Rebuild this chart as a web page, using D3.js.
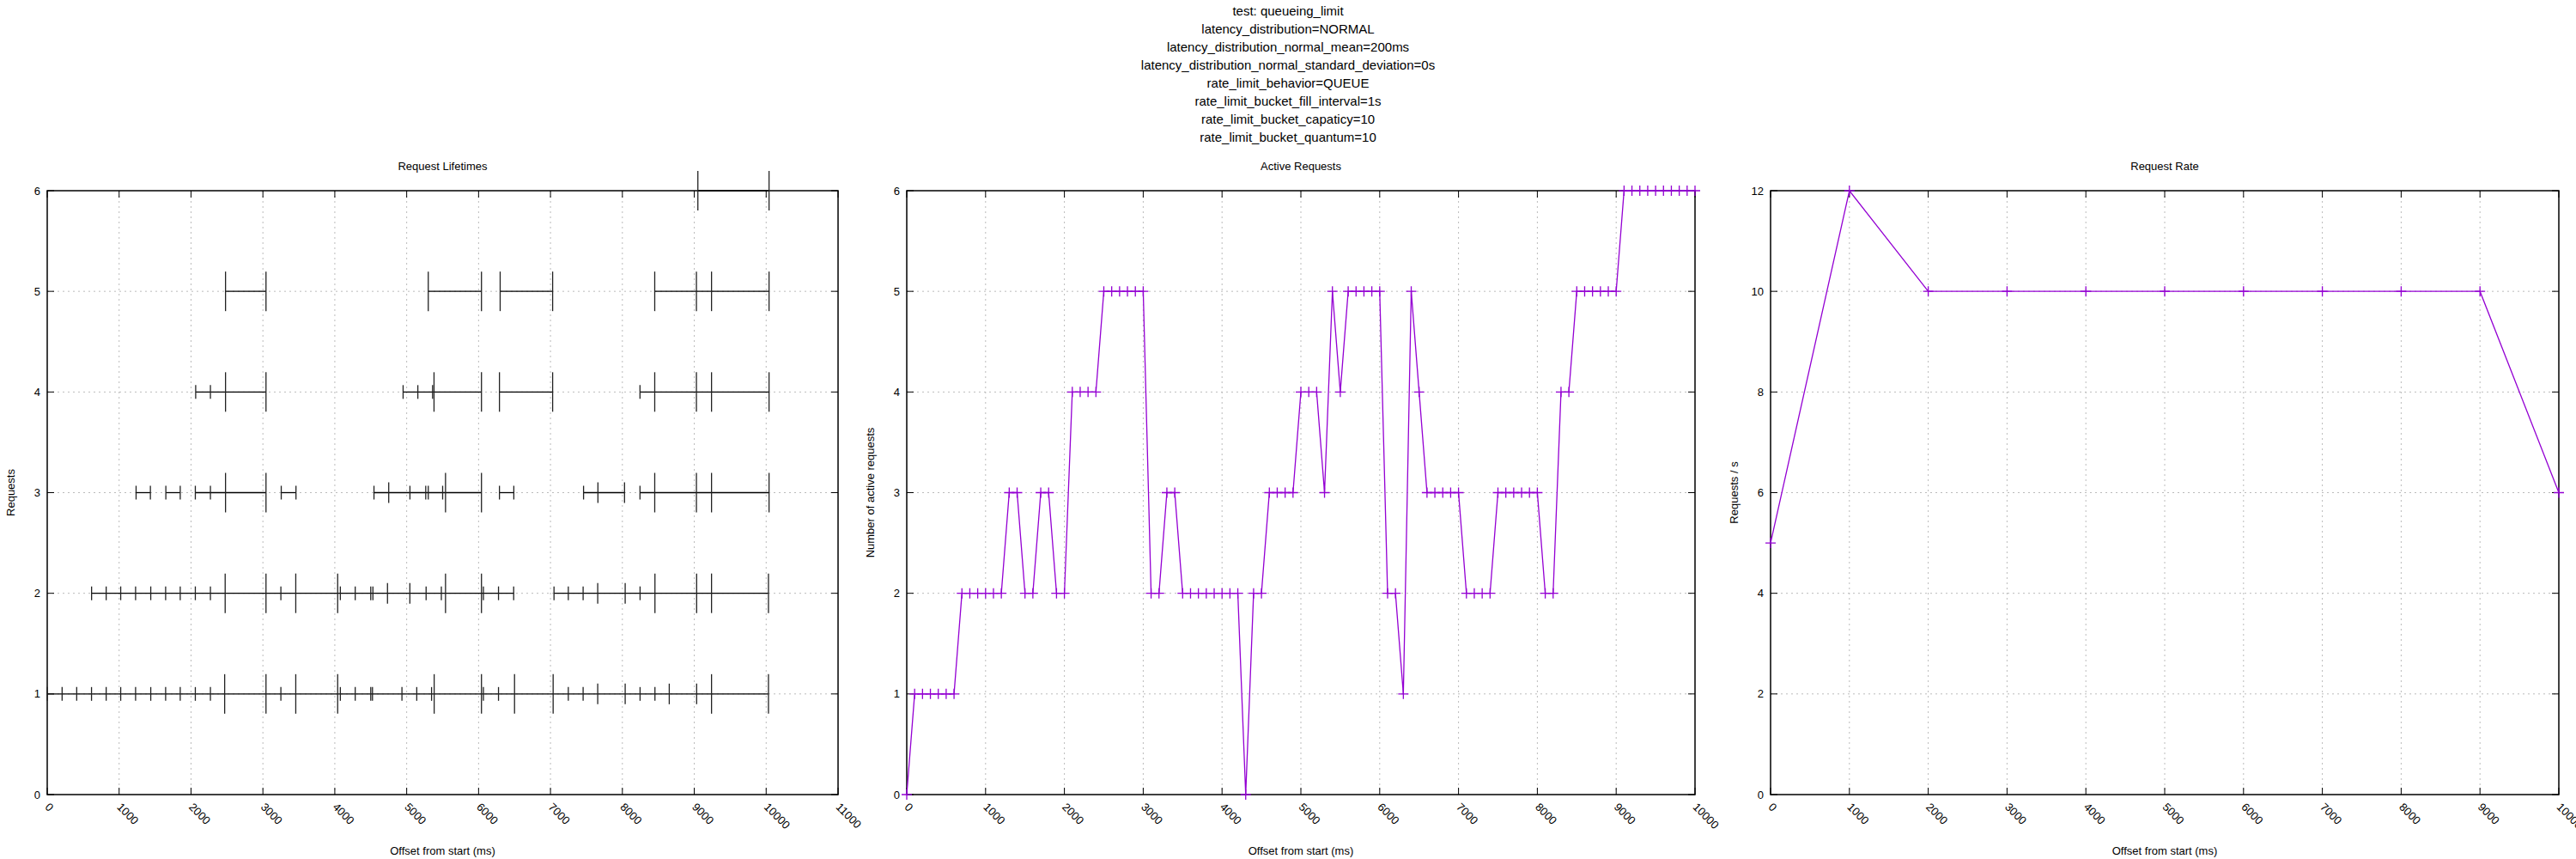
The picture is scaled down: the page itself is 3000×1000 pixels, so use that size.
<!DOCTYPE html>
<html>
<head>
<meta charset="utf-8">
<script src="https://cdn.jsdelivr.net/npm/d3@7"></script>
<style>
  body { margin: 0; background: #fff; }
  text { font-family: "Liberation Sans", Arial, sans-serif; fill: #000; }
</style>
</head>
<body>
<svg id="chart" width="3000" height="1000"></svg>
<script>
// ---- data ----
const titleLines = [
  "test: queueing_limit",
  "latency_distribution=NORMAL",
  "latency_distribution_normal_mean=200ms",
  "latency_distribution_normal_standard_deviation=0s",
  "rate_limit_behavior=QUEUE",
  "rate_limit_bucket_fill_interval=1s",
  "rate_limit_bucket_capaticy=10",
  "rate_limit_bucket_quantum=10"
];

// [row, start ms, end ms]
const lifetimeSpans = [
  [1, 0, 10032],
  [2, 617, 6488], [2, 7049, 10032],
  [3, 1236, 1435], [3, 1650, 1850], [3, 2060, 3043], [3, 3255, 3460], [3, 4545, 6040],
  [3, 6290, 6490], [3, 7460, 8030], [3, 8245, 10040],
  [4, 2065, 3043], [4, 4950, 6040], [4, 6290, 7030], [4, 8245, 10040],
  [5, 2480, 3043], [5, 5300, 6040], [5, 6300, 7030], [5, 8450, 10040],
  [6, 9050, 10040]
];

// [row, ms, cap size]
const lifetimeCaps = [
  [1,0,"S"],[1,207,"S"],[1,410,"S"],[1,616,"S"],[1,820,"S"],[1,1022,"S"],[1,1229,"S"],[1,1440,"S"],
  [1,1647,"S"],[1,1850,"S"],[1,2060,"S"],[1,2270,"S"],[1,2468,"L"],[1,3043,"L"],[1,3250,"S"],[1,3457,"L"],
  [1,4040,"L"],[1,4077,"S"],[1,4284,"S"],[1,4500,"S"],[1,4524,"S"],[1,4934,"S"],[1,5140,"S"],[1,5346,"S"],
  [1,5382,"L"],[1,6040,"L"],[1,6067,"S"],[1,6277,"S"],[1,6500,"L"],[1,7037,"L"],[1,7248,"S"],
  [1,7454,"S"],[1,7657,"M"],[1,8039,"M"],[1,8246,"S"],[1,8453,"S"],[1,8652,"M"],[1,9033,"M"],[1,9240,"L"],[1,10032,"L"],
  [2,617,"S"],[2,820,"S"],[2,1022,"S"],[2,1229,"S"],[2,1440,"S"],[2,1647,"S"],[2,1850,"S"],[2,2060,"S"],
  [2,2270,"S"],[2,2475,"L"],[2,3043,"L"],[2,3250,"S"],[2,3457,"L"],[2,4040,"L"],[2,4077,"S"],[2,4284,"S"],
  [2,4500,"S"],[2,4530,"S"],[2,4733,"M"],[2,5044,"M"],[2,5270,"S"],[2,5482,"S"],[2,5540,"L"],[2,6040,"L"],
  [2,6067,"S"],[2,6277,"S"],[2,6488,"S"],[2,7049,"S"],[2,7248,"S"],[2,7454,"S"],[2,7657,"M"],[2,8039,"M"],
  [2,8246,"S"],[2,8453,"L"],[2,9033,"L"],[2,9240,"L"],[2,10032,"L"],
  [3,1236,"S"],[3,1435,"S"],[3,1650,"S"],[3,1850,"S"],[3,2060,"S"],[3,2270,"S"],[3,2480,"L"],[3,3043,"L"],
  [3,3255,"S"],[3,3460,"S"],[3,4545,"S"],[3,4750,"M"],[3,5045,"S"],[3,5265,"S"],[3,5300,"S"],[3,5500,"S"],
  [3,5540,"L"],[3,6040,"L"],[3,6290,"S"],[3,6490,"S"],[3,7460,"S"],[3,7660,"M"],[3,8030,"M"],[3,8245,"S"],
  [3,8450,"L"],[3,9030,"L"],[3,9240,"L"],[3,10040,"L"],
  [4,2065,"S"],[4,2270,"S"],[4,2480,"L"],[4,3043,"L"],[4,4950,"S"],[4,5155,"S"],[4,5360,"S"],[4,5380,"L"],
  [4,6040,"L"],[4,6290,"L"],[4,7030,"L"],[4,8245,"S"],[4,8450,"L"],[4,9030,"L"],[4,9240,"L"],[4,10040,"L"],
  [5,2480,"L"],[5,3043,"L"],[5,5300,"L"],[5,6040,"L"],[5,6300,"L"],[5,7030,"L"],[5,8450,"L"],[5,9030,"L"],
  [5,9240,"L"],[5,10040,"L"],
  [6,9050,"L"],[6,10040,"L"]
];

// active requests, sampled every 100 ms from 0 to 10000
const activeTimes = d3.range(0, 10001, 100);
const activeCounts = [
  0, 1,1,1,1,1,1, 2,2,2,2,2,2, 3,3, 2,2, 3,3, 2,2, 4,4,4,4, 5,5,5,5,5,5,
  2,2, 3,3, 2,2,2,2,2,2,2,2, 0, 2,2, 3,3,3,3, 4,4,4, 3, 5, 4, 5,5,5,5,5,
  2,2, 1, 5, 4, 3,3,3,3,3, 2,2,2,2, 3,3,3,3,3,3, 2,2, 4,4, 5,5,5,5,5,5,
  6,6,6,6,6,6,6,6,6,6
];

const rateTimes = [0, 1000, 2000, 3000, 4000, 5000, 6000, 7000, 8000, 9000, 10000];
const rateValues = [5, 12, 10, 10, 10, 10, 10, 10, 10, 10, 6];

// ---- layout ----
const svg = d3.select("#chart");
const plotTop = 222, plotBottom = 925;
const capHalf = { S: 8, M: 12, L: 23 };
const purple = "#9400d3";

svg.selectAll(".title").data(titleLines).enter().append("text")
  .attr("x", 1500).attr("y", (d, i) => 18 + i * 21)
  .attr("text-anchor", "middle").attr("font-size", 15).text(d => d);

function panel(left, right, xMax, yMax, yStep, title, yLabel) {
  const x = d3.scaleLinear().domain([0, xMax]).range([left, right]);
  const y = d3.scaleLinear().domain([0, yMax]).range([plotBottom, plotTop]);
  const g = svg.append("g");
  const xTicks = d3.range(0, xMax + 1, 1000);
  const yTicks = d3.range(0, yMax + 1, yStep);

  // grid
  g.selectAll(".gx").data(xTicks.slice(1, -1)).enter().append("line")
    .attr("x1", d => x(d)).attr("x2", d => x(d)).attr("y1", plotTop).attr("y2", plotBottom)
    .attr("stroke", "#bbb").attr("stroke-dasharray", "2,4");
  g.selectAll(".gy").data(yTicks.slice(1, -1)).enter().append("line")
    .attr("x1", left).attr("x2", right).attr("y1", d => y(d)).attr("y2", d => y(d))
    .attr("stroke", "#bbb").attr("stroke-dasharray", "2,4");

  // mirrored inward ticks
  xTicks.forEach(t => {
    g.append("line").attr("x1", x(t)).attr("x2", x(t)).attr("y1", plotBottom).attr("y2", plotBottom - 8).attr("stroke", "#000");
    g.append("line").attr("x1", x(t)).attr("x2", x(t)).attr("y1", plotTop).attr("y2", plotTop + 8).attr("stroke", "#000");
  });
  yTicks.forEach(t => {
    g.append("line").attr("x1", left).attr("x2", left + 8).attr("y1", y(t)).attr("y2", y(t)).attr("stroke", "#000");
    g.append("line").attr("x1", right).attr("x2", right - 8).attr("y1", y(t)).attr("y2", y(t)).attr("stroke", "#000");
  });

  g.append("rect").attr("x", left).attr("y", plotTop).attr("width", right - left).attr("height", plotBottom - plotTop)
    .attr("fill", "none").attr("stroke", "#000").attr("stroke-width", 1.5);

  g.selectAll(".xl").data(xTicks).enter().append("text")
    .attr("transform", d => `translate(${x(d)},${plotBottom + 12}) rotate(45)`)
    .attr("font-size", 13).attr("dy", "0.35em").text(d => d);
  g.selectAll(".yl").data(yTicks).enter().append("text")
    .attr("x", left - 8).attr("y", d => y(d)).attr("dy", "0.35em")
    .attr("text-anchor", "end").attr("font-size", 13).text(d => d);

  g.append("text").attr("x", (left + right) / 2).attr("y", 198)
    .attr("text-anchor", "middle").attr("font-size", 13).text(title);
  g.append("text").attr("x", (left + right) / 2).attr("y", 995)
    .attr("text-anchor", "middle").attr("font-size", 13).text("Offset from start (ms)");
  g.append("text").attr("transform", `translate(${left - 38},${(plotTop + plotBottom) / 2}) rotate(-90)`)
    .attr("text-anchor", "middle").attr("font-size", 13).text(yLabel);
  return { g, x, y };
}

// Request lifetimes
const p1 = panel(55, 976, 11000, 6, 1, "Request Lifetimes", "Requests");
p1.g.selectAll(".span").data(lifetimeSpans).enter().append("line")
  .attr("x1", d => p1.x(d[1])).attr("x2", d => p1.x(d[2]))
  .attr("y1", d => p1.y(d[0])).attr("y2", d => p1.y(d[0]))
  .attr("stroke", "#000").attr("stroke-width", 1.3);
p1.g.selectAll(".cap").data(lifetimeCaps).enter().append("line")
  .attr("x1", d => p1.x(d[1])).attr("x2", d => p1.x(d[1]))
  .attr("y1", d => p1.y(d[0]) - capHalf[d[2]]).attr("y2", d => p1.y(d[0]) + capHalf[d[2]])
  .attr("stroke", "#222").attr("stroke-width", 1.3);

function plusPoints(p, xs, ys) {
  p.g.append("path")
    .attr("d", d3.line().x((d, i) => p.x(xs[i])).y(d => p.y(d))(ys))
    .attr("fill", "none").attr("stroke", purple).attr("stroke-width", 1.3);
  p.g.selectAll(".pt").data(ys).enter().append("path")
    .attr("d", (d, i) => {
      const cx = p.x(xs[i]), cy = p.y(d);
      return `M${cx - 6},${cy}H${cx + 6}M${cx},${cy - 6}V${cy + 6}`;
    })
    .attr("stroke", purple).attr("stroke-width", 1.3);
}

const p2 = panel(1056, 1974, 10000, 6, 1, "Active Requests", "Number of active requests");
plusPoints(p2, activeTimes, activeCounts);

const p3 = panel(2062, 2980, 10000, 12, 2, "Request Rate", "Requests / s");
plusPoints(p3, rateTimes, rateValues);
</script>
</body>
</html>
